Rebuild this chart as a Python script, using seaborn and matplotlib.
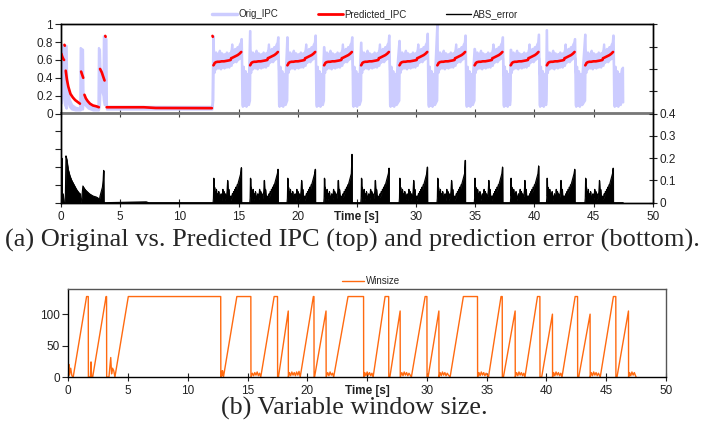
import numpy as np
import pandas as pd
import seaborn as sns
import matplotlib.pyplot as plt
from matplotlib.lines import Line2D

# ---------------- values ----------------
XTICKS = [0, 5, 10, 15, 20, 25, 30, 35, 40, 45, 50]
XTICK_LABELS = ['0', '5', '10', '15', '20', 'Time [s]', '30', '35', '40', '45', '50']

# start of each periodic phase (s) and the per-phase extremes
CYCLE_START = [12.88, 15.98, 19.13, 22.23, 25.36, 28.6, 31.8, 34.95, 38.0, 41.05, 44.3]
START_PEAK = [0.87, 0.93, 0.86, 0.75, 0.80, 0.82, 1.00, 0.73, 0.72, 0.94, 0.89]
END_PEAK = [0.84, 0.86, 0.88, 0.86, 0.88, 0.90, 0.88, 0.86, 0.89, 0.84, 0.88]
ERR_PEAK = [0.157, 0.15, 0.15, 0.217, 0.155, 0.16, 0.19, 0.16, 0.165, 0.15, 0.155]

# Orig_IPC band (lower / upper envelope) before the periodic part
EARLY_T = [0.00, 0.04, 0.15, 0.22, 0.30, 0.44, 0.47, 0.55, 0.70, 0.90,
           1.20, 1.58, 1.62, 1.70, 1.82, 1.86, 2.00, 2.30, 2.70, 3.12,
           3.16, 3.25, 3.30, 3.45, 3.55, 3.58, 3.65, 3.80, 3.84, 12.75]
EARLY_HI = [0.15, 0.77, 0.76, 0.45, 0.77, 0.76, 0.45, 0.28, 0.16, 0.10,
            0.07, 0.06, 0.74, 0.73, 0.72, 0.22, 0.17, 0.12, 0.08, 0.07,
            0.74, 0.72, 0.50, 0.46, 0.42, 0.87, 0.86, 0.84, 0.08, 0.08]
EARLY_LO = [0.12, 0.12, 0.30, 0.25, 0.10, 0.06, 0.30, 0.15, 0.08, 0.05,
            0.04, 0.04, 0.04, 0.05, 0.05, 0.15, 0.10, 0.06, 0.04, 0.04,
            0.04, 0.10, 0.30, 0.25, 0.20, 0.15, 0.10, 0.10, 0.05, 0.05]

# Orig_IPC band inside one phase (time relative to phase start)
CYC_D = [0.00, 0.05, 0.10, 0.20, 0.30, 0.40, 0.50, 0.60, 0.70, 0.80,
         0.90, 1.00, 1.10, 1.20, 1.30, 1.40, 1.50, 1.55, 1.60, 1.70,
         1.80, 1.90, 2.00, 2.10, 2.20, 2.28]
CYC_HI = [0.72, 0.68, 0.66, 0.69, 0.65, 0.67, 0.71, 0.66, 0.68, 0.65,
          0.67, 0.66, 0.69, 0.66, 0.68, 0.67, 0.72, 0.78, 0.70, 0.71,
          0.73, 0.72, 0.75, 0.74, 0.78, 0.80]
CYC_LO = [0.50, 0.46, 0.52, 0.50, 0.53, 0.51, 0.52, 0.50, 0.53, 0.52,
          0.51, 0.53, 0.52, 0.54, 0.52, 0.55, 0.54, 0.58, 0.57, 0.58,
          0.59, 0.58, 0.60, 0.61, 0.62, 0.64]
# Orig_IPC band in the dip after a phase
GAP_D = [2.40, 2.45, 2.52, 2.60, 2.68, 2.75, 2.82, 2.90, 2.96]
GAP_HI = [0.50, 0.42, 0.53, 0.38, 0.48, 0.30, 0.45, 0.36, 0.42]
GAP_LO = [0.10, 0.08, 0.12, 0.09, 0.11, 0.08, 0.10, 0.12, 0.10]
TAIL_T = [47.35, 47.45, 47.47]
TAIL_HI = [0.50, 0.52, 0.13]
TAIL_LO = [0.15, 0.13, 0.13]

# Predicted_IPC
RED_EARLY_T = [0.03, 0.10, 0.20, 0.26, 0.29, 0.32,
               0.40, 0.50, 0.62, 0.80, 1.00, 1.20, 1.40, 1.60,
               1.70, 1.80, 1.88,
               1.98, 2.10, 2.25, 2.45, 2.70, 3.00, 3.20,
               3.30, 3.45, 3.55, 3.68, 3.74, 3.77,
               3.86, 7.00, 8.00, 12.75, 12.80, 12.83]
RED_EARLY_V = [0.67, 0.64, 0.61, 0.60, 0.77, 0.76,
               0.48, 0.38, 0.30, 0.22, 0.18, 0.15, 0.13, 0.11,
               0.47, 0.43, 0.40,
               0.21, 0.17, 0.14, 0.11, 0.09, 0.08, 0.07,
               0.50, 0.46, 0.42, 0.37, 0.87, 0.86,
               0.07, 0.07, 0.062, 0.06, 0.87, 0.86]
RED_EARLY_SEG = [0, 0, 0, 0, 1, 1,
                 2, 2, 2, 2, 2, 2, 2, 2,
                 3, 3, 3,
                 4, 4, 4, 4, 4, 4, 4,
                 5, 5, 5, 5, 6, 6,
                 7, 7, 7, 7, 8, 8]
RED_D = [0.00, 0.05, 0.10, 0.20, 0.35, 0.50, 0.70, 0.90, 1.10, 1.30,
         1.45, 1.50, 1.60, 1.75, 1.90, 2.05, 2.20, 2.35]
RED_V = [0.54, 0.55, 0.565, 0.575, 0.58, 0.58, 0.585, 0.585, 0.59, 0.595,
         0.60, 0.62, 0.625, 0.635, 0.645, 0.655, 0.67, 0.69]

# ABS_error
ERR_EARLY_T = [0.00, 0.05, 0.07, 0.10, 0.18, 0.25, 0.36, 0.42, 0.50, 0.60,
               0.75, 0.90, 1.10, 1.30, 1.50, 1.62, 1.65, 1.75, 1.85, 1.95,
               2.10, 2.40, 2.70, 3.00, 3.15, 3.20, 3.30, 3.40, 3.50, 3.56,
               3.60, 3.62, 7.20, 7.40, 12.80]
ERR_EARLY_V = [0.00, 0.00, 0.20, 0.00, 0.04, 0.00, 0.00, 0.21, 0.19, 0.15,
               0.12, 0.10, 0.08, 0.06, 0.045, 0.04, 0.00, 0.02, 0.075, 0.065,
               0.055, 0.04, 0.03, 0.025, 0.02, 0.00, 0.03, 0.05, 0.07, 0.10,
               0.145, 0.00, 0.004, 0.00, 0.00]
ERR_D = [-0.03, 0.00, 0.03, 0.06, 0.09, 0.13, 0.17, 0.21, 0.25, 0.30,
         0.35, 0.40, 0.45, 0.50, 0.55, 0.60, 0.65, 0.70, 0.75, 0.80,
         0.85, 0.90, 0.95, 1.00, 1.05, 1.10, 1.15, 1.20, 1.25, 1.30,
         1.35, 1.40, 1.45, 1.50, 1.55, 1.60, 1.65, 1.70, 1.75, 1.80,
         1.85, 1.90, 1.95, 2.00, 2.05, 2.10, 2.15, 2.20, 2.25, 2.30]
ERR_V = [0.00, 0.02, 0.11, 0.03, 0.07, 0.01, 0.05, 0.02, 0.06, 0.01,
         0.04, 0.02, 0.05, 0.01, 0.03, 0.02, 0.04, 0.01, 0.03, 0.06,
         0.02, 0.05, 0.01, 0.04, 0.02, 0.03, 0.05, 0.10, 0.03, 0.06,
         0.02, 0.03, 0.01, 0.03, 0.02, 0.04, 0.03, 0.05, 0.04, 0.06,
         0.05, 0.07, 0.06, 0.08, 0.08, 0.09, 0.10, 0.11, 0.12, 0.13]

# Winsize
WIN_T = [0.0, 0.05, 0.1, 0.2, 0.3, 0.41, 1.53, 1.67, 1.68, 1.85, 1.9, 1.95, 2.04,
         3.16, 3.2, 3.21, 3.4, 3.55, 3.62, 3.7, 3.8, 3.9, 5.02, 12.75, 12.76,
         12.8, 12.85, 12.9, 12.98, 14.1, 15.27, 15.28,
         15.4, 15.5, 15.6, 15.7, 15.8, 15.9, 16.0, 16.1, 17.22, 17.5, 17.51,
         17.58, 18.4, 18.41,
         18.5, 18.6, 18.7, 18.8, 18.9, 19.0, 19.1, 19.2, 19.3, 19.4, 20.5,
         20.55, 20.56, 20.6, 21.56, 21.57,
         21.7, 21.8, 21.9, 22.0, 22.1, 22.2, 23.4, 24.7, 24.71,
         24.8, 24.9, 25.0, 25.1, 25.2, 25.3, 25.4, 25.5, 26.5, 26.8, 26.81,
         26.9, 27.76, 27.77,
         27.9, 28.0, 28.1, 28.2, 28.3, 28.4, 28.5, 28.6, 28.7, 29.85, 30.0,
         30.01, 30.1, 31.0, 31.01,
         31.1, 31.2, 31.3, 31.4, 31.5, 31.6, 31.7, 31.8, 31.94, 33.05, 34.23,
         34.24, 34.35, 34.45, 34.55, 34.65, 34.75, 34.85, 34.95, 35.05, 35.15,
         36.2, 36.3, 36.31, 36.4, 37.38, 37.39,
         37.5, 37.6, 37.7, 37.8, 37.9, 38.0, 38.1, 38.2, 39.25, 39.45, 39.46,
         39.6, 40.5, 40.51,
         40.6, 40.7, 40.8, 40.9, 41.0, 41.1, 41.2, 41.3, 42.4, 42.6, 42.61,
         42.7, 43.65, 43.66,
         43.75, 43.85, 43.95, 44.05, 44.15, 44.25, 44.35, 44.5, 45.6, 45.8,
         45.81, 45.9, 46.86, 46.87,
         46.95, 47.05, 47.15, 47.25, 47.35, 47.45, 47.5]
WIN_V = [0, 20, 3, 14, 2, 0, 128, 128, 0, 0, 24, 0, 0,
         128, 128, 0, 0, 31, 5, 14, 10, 0, 128, 128, 0,
         9, 2, 10, 0, 128, 128, 0,
         6, 2, 7, 3, 8, 2, 6, 0, 128, 128, 0,
         0, 105, 0,
         7, 2, 8, 3, 7, 2, 8, 3, 9, 0, 128,
         128, 0, 0, 105, 0,
         7, 2, 8, 3, 6, 0, 128, 128, 0,
         7, 2, 8, 3, 7, 2, 6, 0, 128, 128, 0,
         0, 105, 0,
         7, 2, 8, 3, 7, 2, 6, 3, 0, 128, 128,
         0, 0, 105, 0,
         7, 2, 8, 3, 7, 2, 6, 3, 0, 128, 128,
         0, 7, 2, 8, 3, 7, 2, 6, 3, 0,
         128, 128, 0, 0, 105, 0,
         7, 2, 8, 3, 7, 2, 6, 0, 128, 128, 0,
         0, 100, 0,
         7, 2, 8, 3, 7, 2, 6, 0, 128, 128, 0,
         0, 100, 0,
         7, 2, 8, 3, 7, 2, 6, 0, 128, 128,
         0, 0, 105, 0,
         7, 2, 8, 3, 7, 2, 0]

BLUE = '#ccccff'
RED = '#ff0000'
ORANGE = '#ff6a10'

# ---------------- assemble the series ----------------
blue_t, blue_hi, blue_lo = list(EARLY_T), list(EARLY_HI), list(EARLY_LO)
for i, s in enumerate(CYCLE_START):
    blue_t += [s - 0.05, s - 0.02]
    blue_hi += [START_PEAK[i], START_PEAK[i]]
    blue_lo += [0.15, 0.50]
    blue_t += [s + d for d in CYC_D] + [s + 2.33, s + 2.36]
    blue_hi += CYC_HI + [END_PEAK[i], END_PEAK[i]]
    blue_lo += CYC_LO + [0.64, 0.62]
    blue_t += [s + d for d in GAP_D]
    blue_hi += GAP_HI
    blue_lo += GAP_LO
blue_t += TAIL_T
blue_hi += TAIL_HI
blue_lo += TAIL_LO

red = pd.DataFrame({'t': RED_EARLY_T, 'v': RED_EARLY_V, 'seg': RED_EARLY_SEG})
parts = [red]
for i, s in enumerate(CYCLE_START):
    parts.append(pd.DataFrame({'t': [s + d for d in RED_D], 'v': RED_V, 'seg': 100 + i}))
red = pd.concat(parts, ignore_index=True)

err_t, err_v = list(ERR_EARLY_T), list(ERR_EARLY_V)
for i, s in enumerate(CYCLE_START):
    err_t += [s + d for d in ERR_D] + [s + 2.36, s + 2.37]
    err_v += ERR_V + [ERR_PEAK[i], 0.0]
err_t += [47.5]
err_v += [0.0]

# ---------------- figure ----------------
sns.set_theme(style='ticks')
plt.rcParams['font.family'] = ['Liberation Sans', 'DejaVu Sans']

fig = plt.figure(figsize=(7.04, 4.26), dpi=100)

# (a) top panel
ax = fig.add_axes([61 / 704, 1 - 202.7 / 426, 591.7 / 704, 178.4 / 426])
axr = ax.twinx()

ax.fill_between(blue_t, blue_lo, blue_hi, color=BLUE, lw=1.6, edgecolor=BLUE, zorder=2)
sns.lineplot(data=red, x='t', y='v', units='seg', estimator=None, sort=False,
             color=RED, lw=1.9, solid_capstyle='round', ax=ax, zorder=3)
ax.axhline(0, color='#777777', lw=1.3, zorder=1)

axr.fill_between(err_t, 0, err_v, color='black', lw=0.5, edgecolor='black')
sns.lineplot(x=err_t, y=err_v, estimator=None, sort=False, color='black', lw=0.8, ax=axr)

ax.set_xlim(0, 50)
ax.set_ylim(-1, 1)
axr.set_ylim(0, 0.8)

left_ticks = np.round(np.arange(-1, 1.01, 0.2), 1) + 0.0
ax.set_yticks(left_ticks, labels=[f'{abs(v):g}' if v > -0.05 else '' for v in left_ticks])
right_ticks = np.round(np.arange(0, 0.81, 0.1), 1)
axr.set_yticks(right_ticks, labels=[f'{v:g}' if v <= 0.4 else '' for v in right_ticks])
ax.set_xticks(XTICKS, labels=XTICK_LABELS)
ax.set_xlabel('')
ax.set_ylabel('')
axr.set_ylabel('')

ax.tick_params(axis='y', direction='out', length=4, width=0.8, labelsize=8.5, pad=2, colors='#222222')
ax.tick_params(axis='x', direction='inout', length=6, width=0.8, labelsize=8.5, pad=3, colors='#222222')
axr.tick_params(axis='y', direction='inout', length=6, width=0.8, labelsize=8.5, pad=2, colors='#222222')

mid = ax.secondary_xaxis(0.5)
mid.set_xticks(XTICKS, labels=[''] * len(XTICKS))
mid.tick_params(direction='inout', length=6, width=0.8, colors='#444444')
for sp in mid.spines.values():
    sp.set_color('#777777')
    sp.set_linewidth(1.3)

for a in (ax, axr):
    for sp in a.spines.values():
        sp.set_visible(True)
        sp.set_color('black')
        sp.set_linewidth(1.0)

for lab in ax.get_xticklabels():
    if lab.get_text() == 'Time [s]':
        lab.set_fontweight('bold')

handles = [Line2D([], [], color=BLUE, lw=2.5),
           Line2D([], [], color=RED, lw=2.0),
           Line2D([], [], color='black', lw=1.0)]
fig.legend(handles, ['Orig_IPC', 'Predicted_IPC', 'ABS_error'], loc='center',
           bbox_to_anchor=(365 / 704, 1 - 14 / 426), ncol=3, frameon=False,
           fontsize=7, handlelength=2.6, columnspacing=4.0, handletextpad=0.2)

fig.text(0.5, 1 - 240 / 426,
         '(a) Original vs. Predicted IPC (top) and prediction error (bottom).',
         ha='center', va='center', family='Liberation Serif', fontsize=19)

# (b) bottom panel
axb = fig.add_axes([68.3 / 704, 1 - 377 / 426, 597.7 / 704, 88 / 426])
sns.lineplot(x=WIN_T, y=WIN_V, estimator=None, sort=False, color=ORANGE, lw=1.0, ax=axb)
axb.set_xlim(0, 50)
axb.set_ylim(0, 140)
axb.set_yticks([0, 50, 100])
axb.set_xticks(XTICKS, labels=XTICK_LABELS)
axb.tick_params(axis='y', direction='out', length=4, width=0.8, labelsize=8.5, pad=2, colors='#222222')
axb.tick_params(axis='x', direction='inout', length=6, width=0.8, labelsize=8.5, pad=3, colors='#222222')
for name, sp in axb.spines.items():
    sp.set_visible(True)
    sp.set_linewidth(1.0)
    sp.set_color('black' if name in ('left', 'bottom') else '#555555')
for lab in axb.get_xticklabels():
    if lab.get_text() == 'Time [s]':
        lab.set_fontweight('bold')

fig.legend([Line2D([], [], color=ORANGE, lw=1.0)], ['Winsize'], loc='center',
           bbox_to_anchor=(371 / 704, 1 - 281 / 426), frameon=False,
           fontsize=7, handlelength=2.3, handletextpad=0.2)

fig.text(354 / 704, 1 - 408 / 426, '(b) Variable window size.',
         ha='center', va='center', family='Liberation Serif', fontsize=18.7)

fig.savefig('out.png', dpi=100)
